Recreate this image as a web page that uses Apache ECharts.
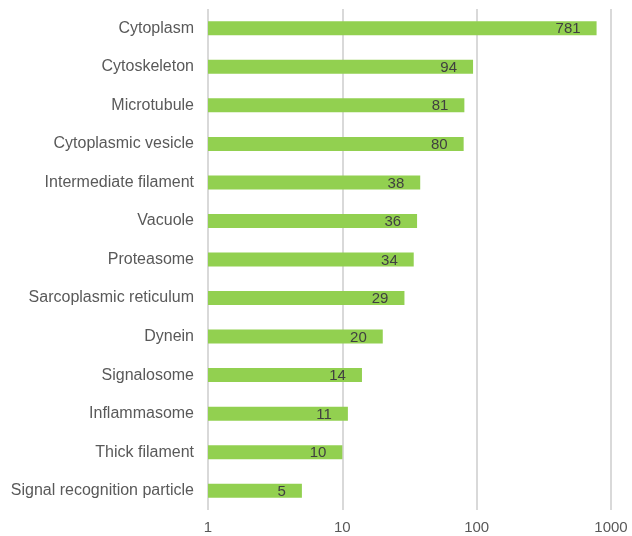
<!DOCTYPE html>
<html><head><meta charset="utf-8">
<script src="https://cdn.jsdelivr.net/npm/echarts@6/dist/echarts.min.js"></script>
<style>html,body{margin:0;padding:0;background:#fff}#c{width:632px;height:536px}</style>
</head><body><div id="c"></div>
<script>
const categories = ["Cytoplasm","Cytoskeleton","Microtubule","Cytoplasmic vesicle","Intermediate filament","Vacuole","Proteasome","Sarcoplasmic reticulum","Dynein","Signalosome","Inflammasome","Thick filament","Signal recognition particle"];
const values = [781,94,81,80,38,36,34,29,20,14,11,10,5];
const chart = echarts.init(document.getElementById('c'));
chart.setOption({
  animation:false,
  grid:{left:208,right:21,top:9,bottom:26,containLabel:false},
  xAxis:{type:'log',logBase:10,min:1,max:1000,
    axisLine:{show:false},axisTick:{show:false},
    axisLabel:{color:'#595959',fontFamily:'Liberation Sans, Arial',fontSize:15,margin:10,showMaxLabel:true,showMinLabel:true,
      formatter:function(v){return String(Math.round(v));}},
    splitLine:{show:true,lineStyle:{color:'#d9d9d9',width:2}}},
  yAxis:{type:'category',data:categories,inverse:true,
    axisLine:{show:false},axisTick:{show:false},
    axisLabel:{color:'#595959',fontFamily:'Liberation Sans, Arial',fontSize:16,margin:14}},
  series:[{type:'bar',data:values,barWidth:14,
    itemStyle:{color:'#92d050'},
    label:{show:true,position:'insideRight',distance:16,color:'#404040',fontFamily:'Liberation Sans, Arial',fontSize:15,offset:[0,1]}}]
});
</script></body></html>
